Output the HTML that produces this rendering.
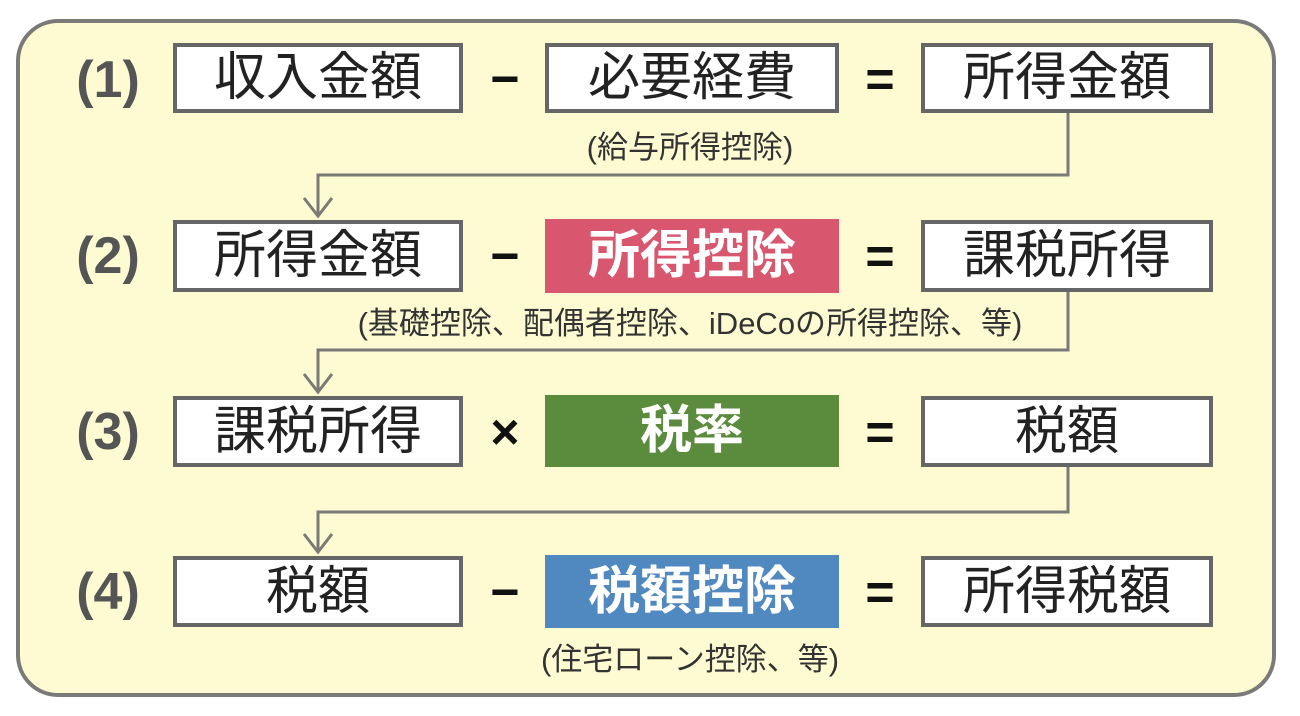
<!DOCTYPE html>
<html><head><meta charset="utf-8"><style>
body{margin:0;width:1300px;height:716px;background:#fff;position:relative;overflow:hidden;font-family:"Liberation Sans","Noto Sans CJK JP",sans-serif}
.outer{position:absolute;left:16px;top:19px;width:1252px;height:670px;border:4px solid #7a7a78;border-radius:42px;background:#fefbd2}
.b{position:absolute;box-sizing:border-box;border:4px solid #666;background:#fff;display:flex;align-items:center;justify-content:center;font-size:52px;color:#222;line-height:1}
.c{border:none;color:#fff;font-weight:bold}
.n{position:absolute;left:58px;width:100px;text-align:center;font-size:52px;font-weight:bold;color:#555;line-height:1}
.op{position:absolute;width:60px;text-align:center;font-size:50px;font-weight:bold;color:#111;line-height:1}
.a{position:absolute;left:200px;width:980px;text-align:center;font-size:31px;color:#333;line-height:1}
</style></head><body>
<div class="outer"></div>
<svg width="1300" height="716" style="position:absolute;left:0;top:0" fill="none" stroke="#7a7a78" stroke-width="3">
<polyline points="1068,110 1068,175 318,175 318,216"/><polyline points="304,198 318,216 332,198"/>
<polyline points="1068,290 1068,350 318,350 318,392"/><polyline points="304,374 318,392 332,374"/>
<polyline points="1068,465 1068,512 318,512 318,552"/><polyline points="304,534 318,552 332,534"/>
</svg>
<div class="n" style="top:54px">(1)</div>
<div class="n" style="top:230px">(2)</div>
<div class="n" style="top:406px">(3)</div>
<div class="n" style="top:566px">(4)</div>
<div class="b" style="left:173px;top:43px;width:290px;height:70px">収入金額</div>
<div class="b" style="left:545px;top:43px;width:294px;height:70px">必要経費</div>
<div class="b" style="left:921px;top:43px;width:292px;height:70px">所得金額</div>
<div class="b" style="left:173px;top:220px;width:290px;height:72px">所得金額</div>
<div class="b c" style="left:545px;top:219px;width:294px;height:74px;background:#d8576f">所得控除</div>
<div class="b" style="left:921px;top:220px;width:292px;height:72px">課税所得</div>
<div class="b" style="left:173px;top:396px;width:290px;height:71px">課税所得</div>
<div class="b c" style="left:545px;top:395px;width:294px;height:72px;background:#5b8b3d">税率</div>
<div class="b" style="left:921px;top:396px;width:292px;height:71px">税額</div>
<div class="b" style="left:173px;top:556px;width:290px;height:71px">税額</div>
<div class="b c" style="left:545px;top:555px;width:294px;height:73px;background:#5088c0">税額控除</div>
<div class="b" style="left:921px;top:556px;width:292px;height:71px">所得税額</div>
<div class="op" style="left:475px;top:54px">−</div>
<div class="op" style="left:850px;top:54px">=</div>
<div class="op" style="left:475px;top:231px">−</div>
<div class="op" style="left:850px;top:231px">=</div>
<div class="op" style="left:475px;top:407px">×</div>
<div class="op" style="left:850px;top:407px">=</div>
<div class="op" style="left:475px;top:567px">−</div>
<div class="op" style="left:850px;top:567px">=</div>
<div class="a" style="top:132px">(給与所得控除)</div>
<div class="a" style="top:308px">(基礎控除、配偶者控除、iDeCoの所得控除、等)</div>
<div class="a" style="top:644px">(住宅ローン控除、等)</div>
</body></html>
